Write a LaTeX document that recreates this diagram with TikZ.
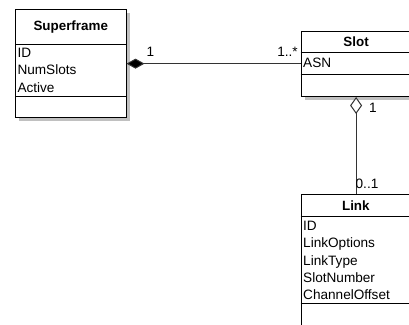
\documentclass[tikz,border=0pt]{standalone}
\usepackage{fontspec}
\setmainfont{Liberation Sans}
\usetikzlibrary{arrows.meta,shadows}
\definecolor{shadowgray}{HTML}{C0C0C0}
\definecolor{linkgray}{HTML}{333333}
\begin{document}
\begin{tikzpicture}[x=1pt,y=-1pt,
  classbox/.style={draw=black, line width=1pt, fill=white, inner sep=0pt,
    anchor=north west,
    drop shadow={shadow xshift=3.5pt, shadow yshift=-3.5pt, fill=shadowgray, opacity=1}},
  divider/.style={draw=black, line width=1pt},
  txt/.style={inner sep=0pt, font=\fontsize{13.6}{15}\selectfont},
  attr/.style={txt, anchor=base west},
  title/.style={txt, anchor=base, font=\bfseries\fontsize{13.4}{15}\selectfont},
  mult/.style={txt, anchor=base},
  assoc/.style={draw=linkgray, line width=1pt},
  composite/.style={assoc, {Diamond[length=18pt,width=10pt,fill=black]}-},
  aggregate/.style={assoc, {Diamond[length=17pt,width=12pt,fill=white]}-}]
\clip (0,0) rectangle (409,324);
\fill[white] (0,0) rectangle (409,324);

% Superframe class
\node[classbox, minimum width=110.5pt, minimum height=107.7pt] (sf) at (15,9.3) {};
\draw[divider] (sf.west |- 0,44) -- (sf.east |- 0,44);
\draw[divider] (sf.west |- 0,96.5) -- (sf.east |- 0,96.5);
\node[title] (sftitle) at (sf.north |- 0,30.7) {Superframe};
\node[attr] (sfid) at (17.3,57) {ID};
\node[attr] (sfnum) at (17.3,74.5) {NumSlots};
\node[attr] (sfact) at (17.3,92) {Active};

% Slot class
\node[classbox, minimum width=109.8pt, minimum height=65.3pt] (slot) at (300.7,30.7) {};
\draw[divider] (slot.west |- 0,52.3) -- (slot.east |- 0,52.3);
\draw[divider] (slot.west |- 0,74.3) -- (slot.east |- 0,74.3);
\node[title] (slottitle) at (slot.north |- 0,46.5) {Slot};
\node[attr] (slotasn) at (303,67.5) {ASN};

% Link class
\node[classbox, minimum width=109.3pt, minimum height=140pt] (link) at (300.7,194) {};
\draw[divider] (link.west |- 0,216) -- (link.east |- 0,216);
\draw[divider] (link.west |- 0,303) -- (link.east |- 0,303);
\node[title] (linktitle) at (link.north |- 0,210.7) {Link};
\node[attr] (lid) at (303,230.3) {ID};
\node[attr] (lopt) at (303,247.6) {LinkOptions};
\node[attr] (ltype) at (303,265) {LinkType};
\node[attr] (lslot) at (303,282.4) {SlotNumber};
\node[attr] (lch) at (303,299.7) {ChannelOffset};

% Associations
\draw[composite] (sf.east) -- (sf.east -| slot.west);
\draw[aggregate] (slot.south) -- (slot.south |- link.north);

% Multiplicities
\node[mult] (m1) at (150.5,56.8) {1};
\node[mult] (m2) at (287.5,56.8) {1..*};
\node[mult] (m3) at (373,112.5) {1};
\node[mult] (m4) at (367,188) {0..1};
\end{tikzpicture}
\end{document}
